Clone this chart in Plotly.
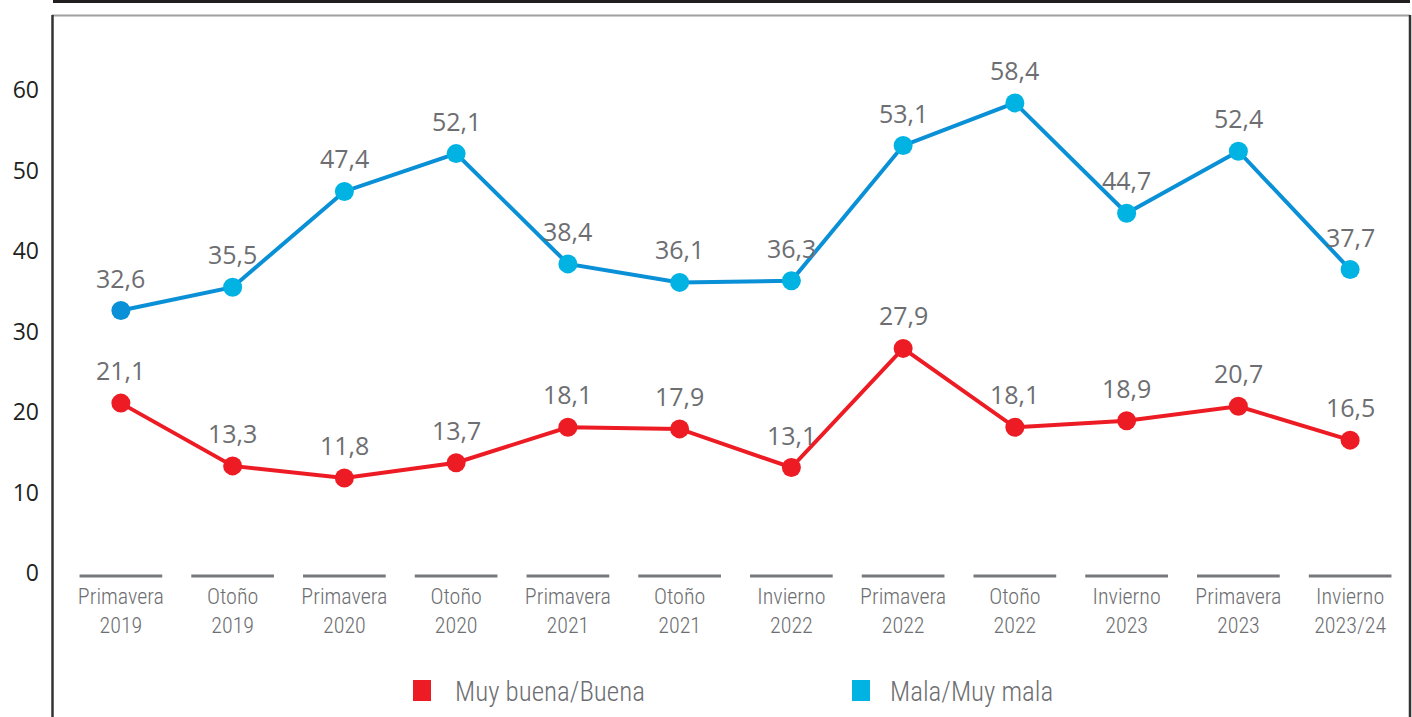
import plotly.graph_objects as go

categories = ["Primavera<br>2019", "Otoño<br>2019", "Primavera<br>2020", "Otoño<br>2020",
              "Primavera<br>2021", "Otoño<br>2021", "Invierno<br>2022", "Primavera<br>2022",
              "Otoño<br>2022", "Invierno<br>2023", "Primavera<br>2023", "Invierno<br>2023/24"]
series_names = ["Muy buena/Buena", "Mala/Muy mala"]
buena = [21.1, 13.3, 11.8, 13.7, 18.1, 17.9, 13.1, 27.9, 18.1, 18.9, 20.7, 16.5]
mala = [32.6, 35.5, 47.4, 52.1, 38.4, 36.1, 36.3, 53.1, 58.4, 44.7, 52.4, 37.7]
y_ticks = [0, 10, 20, 30, 40, 50, 60]

RED = "#ed1c24"
BLUE_LINE = "#0a90d6"
CYAN = "#00b3e3"
GRAY_TXT = "#6d6e71"
COND = "Roboto Condensed, Liberation Sans Narrow, sans-serif"

W, H = 1412, 717
ML, MR, MT, MB = 65, 6, 20, 136
PW, PH = W - ML - MR, H - MT - MB


def px_x(p):
    return (p - ML) / PW


def px_y(p):
    return (H - MB - p) / PH


xs = list(range(len(categories)))
fig = go.Figure()

fig.add_trace(go.Scatter(
    x=xs, y=mala, mode="lines+markers", name=series_names[1], showlegend=False,
    line=dict(color=BLUE_LINE, width=4),
    marker=dict(size=19, color=[BLUE_LINE] + [CYAN] * (len(mala) - 1)),
    cliponaxis=False, hoverinfo="skip"))
fig.add_trace(go.Scatter(
    x=xs, y=buena, mode="lines+markers", name=series_names[0], showlegend=False,
    line=dict(color=RED, width=4),
    marker=dict(size=19, color=RED),
    cliponaxis=False, hoverinfo="skip"))

annotations = []
for series in (buena, mala):
    for i, v in enumerate(series):
        annotations.append(dict(
            x=i, y=v, xref="x", yref="y", text=f"{v:.1f}".replace(".", ","),
            showarrow=False, yshift=33, xanchor="center", yanchor="middle",
            font=dict(family="Open Sans, DejaVu Sans, sans-serif", size=25, color=GRAY_TXT)))

shapes = []
# category underline segments
for i in xs:
    shapes.append(dict(type="line", xref="x", yref="y", x0=i - 0.37, x1=i + 0.37,
                       y0=-0.37, y1=-0.37, line=dict(color="#77787b", width=3)))

# frame
shapes.append(dict(type="line", xref="paper", yref="paper", x0=px_x(53), x1=px_x(1410),
                   y0=px_y(1.5), y1=px_y(1.5), line=dict(color="#231f20", width=3)))
shapes.append(dict(type="line", xref="paper", yref="paper", x0=px_x(52), x1=px_x(1410),
                   y0=px_y(15.5), y1=px_y(15.5), line=dict(color="#a0a0a0", width=2)))
shapes.append(dict(type="line", xref="paper", yref="paper", x0=px_x(52.5), x1=px_x(52.5),
                   y0=px_y(15), y1=px_y(720), line=dict(color="#333333", width=2.5)))
shapes.append(dict(type="line", xref="paper", yref="paper", x0=px_x(1410), x1=px_x(1410),
                   y0=px_y(15), y1=px_y(720), line=dict(color="#333333", width=2.5)))

# legend
legend_items = [(series_names[0], RED, 413, 453), (series_names[1], CYAN, 852, 888)]
for name, col, sx, tx in legend_items:
    shapes.append(dict(type="rect", xref="paper", yref="paper", x0=px_x(sx), x1=px_x(sx + 18),
                       y0=px_y(701), y1=px_y(680), fillcolor=col, line=dict(width=0)))
    annotations.append(dict(x=px_x(tx), y=px_y(692), xref="paper", yref="paper", text=name,
                            showarrow=False, xanchor="left", yanchor="middle",
                            font=dict(family=COND, size=27, color=GRAY_TXT, weight=300)))

fig.update_layout(
    width=W, height=H, margin=dict(l=ML, r=MR, t=MT, b=MB),
    paper_bgcolor="white", plot_bgcolor="white",
    showlegend=False, shapes=shapes, annotations=annotations,
    xaxis=dict(range=[-0.5, len(categories) - 0.5], tickvals=xs, ticktext=categories,
               showgrid=False, zeroline=False, showline=False, ticks="",
               tickfont=dict(family=COND, size=22, color=GRAY_TXT, weight=300)),
    yaxis=dict(range=[-1, 68.7], tickvals=y_ticks, showgrid=False, zeroline=False,
               showline=False, ticks="", ticklabelstandoff=25,
               tickfont=dict(family="Open Sans, DejaVu Sans, sans-serif", size=23,
                             color="#231f20")),
)

fig.write_html("out.html", post_script="document.body.style.margin='0';",
               config={"displayModeBar": False})
